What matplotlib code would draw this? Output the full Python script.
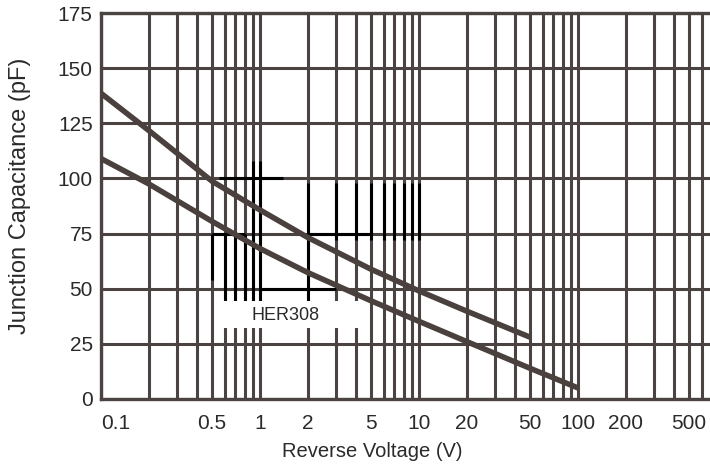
import matplotlib.pyplot as plt
import matplotlib.ticker as mticker
import numpy as np

plt.switch_backend("Agg")
plt.rcParams['font.family'] = ['Liberation Sans', 'DejaVu Sans']

# Curve data (reverse voltage in V, junction capacitance in pF)
volts_upper = [0.1, 0.2, 0.5, 1, 2, 5, 10, 20, 50]
cap_upper = [138.6, 121.7, 98.7, 85.7, 73.2, 58.8, 49.0, 39.8, 28.0]
volts_lower = [0.1, 0.2, 0.5, 1, 2, 5, 10, 20, 50, 100]
cap_lower = [109.0, 97.5, 80.5, 68.2, 57.3, 44.5, 35.2, 26.0, 13.9, 5.0]

x_ticks = [0.1, 0.5, 1, 2, 5, 10, 20, 50, 100, 200, 500]
x_ticklabels = ['0.1', '0.5', '1', '2', '5', '10', '20', '50', '100', '200', '500']
y_ticks = [0, 25, 50, 75, 100, 125, 150, 175]
part_label = 'HER308'

GRID = '#4b4341'
CURVE = '#4a403e'
TEXT = '#2a2a2a'

fig = plt.figure(figsize=(7.1, 4.68), dpi=100)
ax = fig.add_axes([101 / 710, 1 - 399 / 468, 609 / 710, 386 / 468])

ax.set_xscale('log')
ax.set_xlim(0.1, 676)
ax.set_ylim(0, 175)

ax.xaxis.set_minor_locator(mticker.LogLocator(base=10, subs=np.arange(2, 10)))
ax.xaxis.set_minor_formatter(mticker.NullFormatter())
ax.set_xticks(x_ticks)
ax.set_xticklabels(x_ticklabels)
ax.set_yticks(y_ticks)
ax.tick_params(axis='both', which='both', length=0, labelsize=15, labelcolor=TEXT)
ax.tick_params(axis='x', pad=11)
ax.tick_params(axis='y', pad=6)
ax.get_xticklabels()[0].set_ha('left')

ax.grid(True, which='both', axis='x', color=GRID, lw=2.2, zorder=1)
ax.grid(True, which='major', axis='y', color=GRID, lw=2.2, zorder=1)
ax.set_axisbelow(True)
for side in ['left', 'bottom', 'top']:
    ax.spines[side].set_color(GRID)
    ax.spines[side].set_linewidth(2.4)
ax.spines['right'].set_visible(False)

# dark overlay marks left over in the scanned figure
ax.vlines([0.5], 54, 75, color='black', lw=2.2, zorder=2)
ax.vlines([0.6, 0.7, 0.8], 44.5, 75, color='black', lw=2.2, zorder=2)
ax.vlines([0.9, 1], 44.5, 108, color='black', lw=2.2, zorder=2)
ax.vlines([2], 44.5, 98, color='black', lw=2.2, zorder=2)
ax.vlines([3, 4, 5, 6, 7, 8, 9, 10], 72, 98, color='black', lw=2.2, zorder=2)
ax.hlines([100], 0.55, 1.4, color='black', lw=2.2, zorder=2)
ax.hlines([75], 0.5, 0.8, color='black', lw=2.2, zorder=2)
ax.hlines([75], 2, 5, color='black', lw=2.2, zorder=2)
ax.hlines([50], 1, 3, color='black', lw=2.2, zorder=2)

# label box
ax.fill_between([0.55, 4.5], 32.3, 44.5, color='white', lw=0, zorder=3)
ax.text(1.44, 37.8, part_label, ha='center', va='center', fontsize=13,
        color=TEXT, zorder=4)

ax.plot(volts_upper, cap_upper, color=CURVE, lw=4, solid_capstyle='butt', zorder=5)
ax.plot(volts_lower, cap_lower, color=CURVE, lw=4, solid_capstyle='butt', zorder=5)

ax.set_xlabel('Reverse Voltage (V)', fontsize=14.5, color=TEXT)
ax.xaxis.set_label_coords(0.445, -0.112)
ax.set_ylabel('Junction Capacitance (pF)', fontsize=17, color=TEXT)
ax.yaxis.set_label_coords(-0.115, 0.526)

fig.savefig('out.png', dpi=100)
